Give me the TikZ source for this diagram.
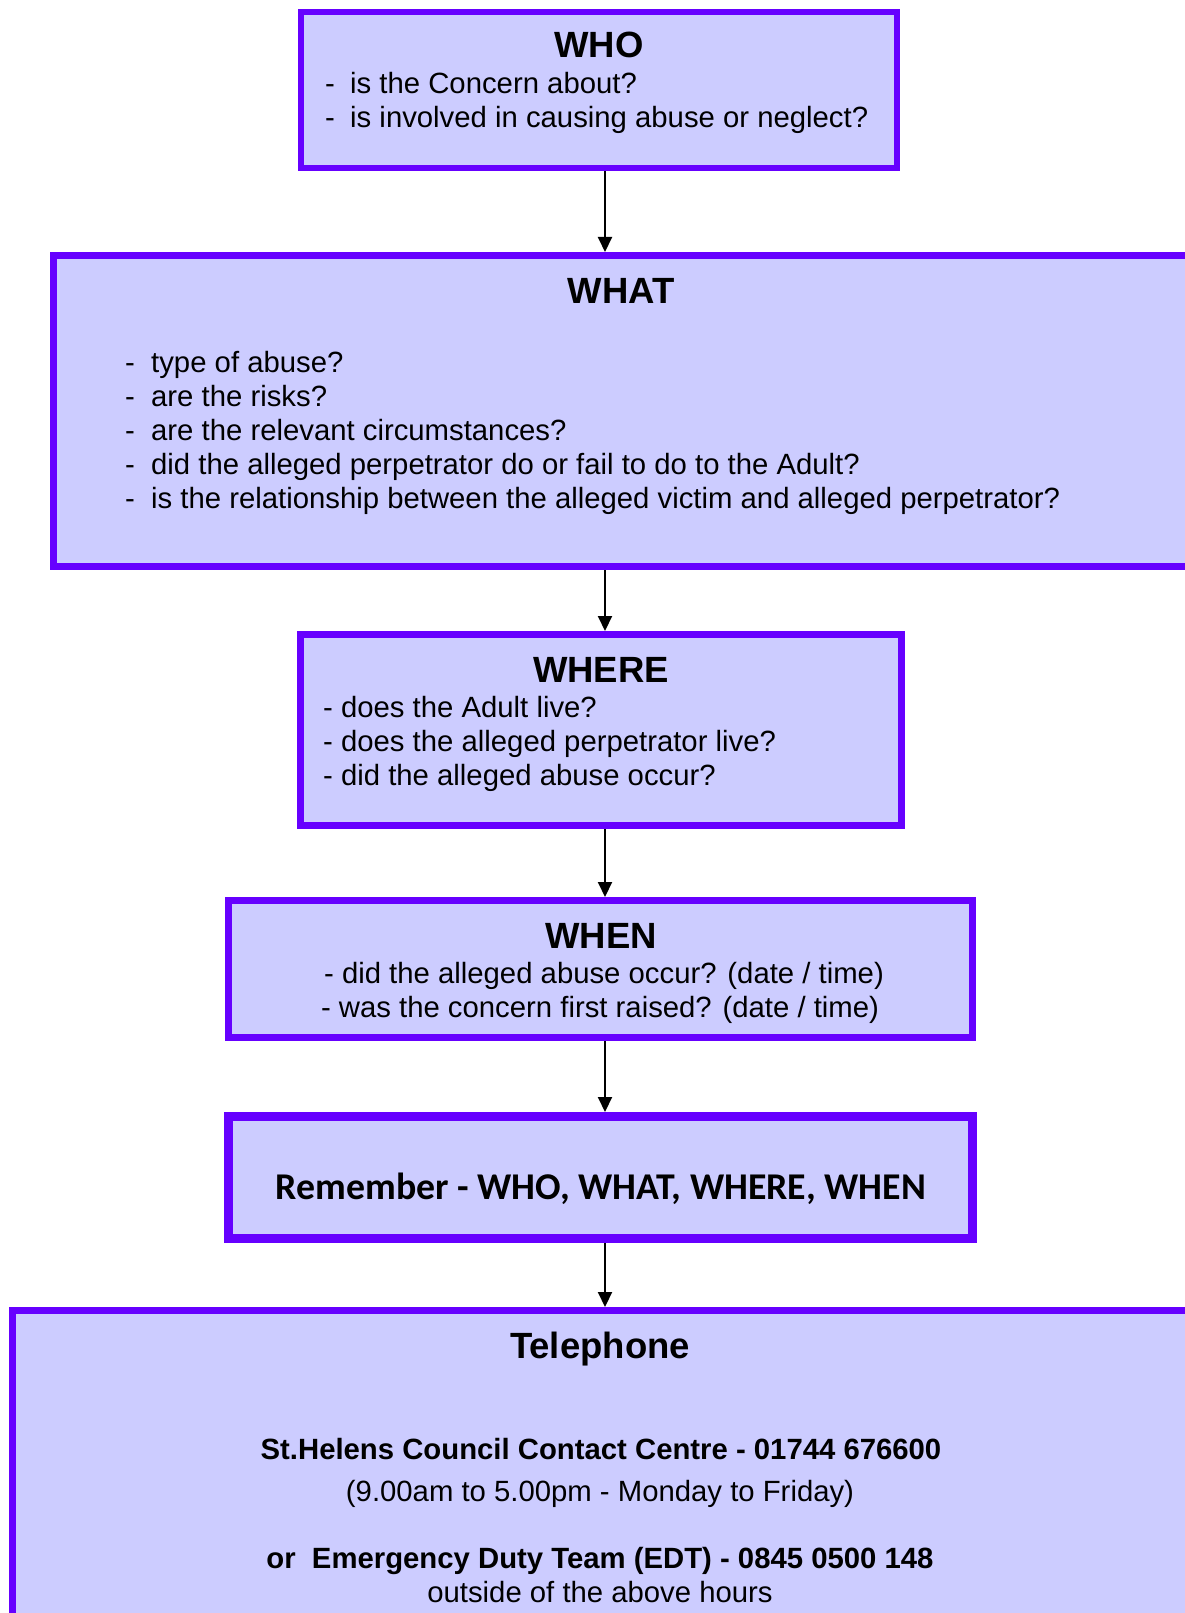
\documentclass[tikz,border=0pt]{standalone}
\usepackage{fontspec}
\setmainfont{Liberation Sans}
\newfontfamily\calibfont{Carlito}
\usetikzlibrary{arrows.meta}

\definecolor{boxfill}{HTML}{CCCCFF}
\definecolor{boxline}{HTML}{6600FF}

\begin{document}
\begin{tikzpicture}[x=1pt,y=-1pt,
  qbox/.style={draw=boxline, fill=boxfill, inner sep=0pt, line width=#1},
  qbox/.default=7pt,
  conn/.style={draw=black, line width=2pt, -{Triangle[width=14pt,length=15pt]}},
  body/.style={inner sep=0pt, font=\fontsize{29.3}{34}\selectfont},
  bodyb/.style={inner sep=0pt, font=\fontsize{29.3}{34}\selectfont\bfseries},
  title/.style={inner sep=0pt, anchor=base, font=\fontsize{36.5}{40}\selectfont\bfseries},
  item/.style={body, anchor=base west},
  mid/.style={body, anchor=base},
  midb/.style={bodyb, anchor=base}]

  % page frame
  \clip (0,0) rectangle (1185,1613);
  \fill[white] (0,0) rectangle (1185,1613);

  % boxes
  \node[qbox=6pt, minimum width=596pt, minimum height=156pt] (who) at (599,90) {};
  \node[qbox, minimum width=1203pt, minimum height=311pt] (what) at (655,411) {};
  \node[qbox, minimum width=601pt, minimum height=191pt] (where) at (601,730) {};
  \node[qbox, minimum width=744pt, minimum height=137pt] (when) at (600.5,969) {};
  \node[qbox=9pt, minimum width=744pt, minimum height=122pt] (remember) at (600.5,1177.5) {};
  \node[qbox, minimum width=1244pt, minimum height=386pt] (phone) at (634.5,1503.5) {};

  % connectors
  \coordinate (ax) at (605,0);
  \draw[conn] (who.south -| ax) -- (what.north -| ax);
  \draw[conn] (what.south -| ax) -- (where.north -| ax);
  \draw[conn] (where.south -| ax) -- (when.north -| ax);
  \draw[conn] (when.south -| ax) -- (remember.north -| ax);
  \draw[conn] (remember.south -| ax) -- (phone.north -| ax);

  % WHO
  \node[title] (whot) at (599,58) {WHO};
  \node[item] (who1) at (325,94) {\makebox[25pt][l]{-}is the Concern about?};
  \node[item] (who2) at (325,128) {\makebox[25pt][l]{-}is involved in causing abuse or neglect?};

  % WHAT
  \node[title] (whatt) at (621,303) {WHAT};
  \node[item] (what1) at (125,372) {\makebox[26pt][l]{-}type of abuse?};
  \node[item] (what2) at (125,406) {\makebox[26pt][l]{-}are the risks?};
  \node[item] (what3) at (125,440) {\makebox[26pt][l]{-}are the relevant circumstances?};
  \node[item] (what4) at (125,474) {\makebox[26pt][l]{-}did the alleged perpetrator do or fail to do to the Adult?};
  \node[item] (what5) at (125,508) {\makebox[26pt][l]{-}is the relationship between the alleged victim and alleged perpetrator?};

  % WHERE
  \node[title] (wheret) at (601,682) {WHERE};
  \node[item] (where1) at (323,717) {- does the Adult live?};
  \node[item] (where2) at (323,751) {- does the alleged perpetrator live?};
  \node[item] (where3) at (323,785) {- did the alleged abuse occur?};

  % WHEN
  \node[title] (whent) at (601,948) {WHEN};
  \node[mid] (when1) at (604,983) {- did the alleged abuse occur? (date / time)};
  \node[mid] (when2) at (600,1017) {- was the concern first raised? (date / time)};

  % reminder
  \node[inner sep=0pt, anchor=base, font=\calibfont\fontsize{37.8}{40}\selectfont\bfseries]
    (remt) at (601,1199) {Remember - WHO, WHAT, WHERE, WHEN};

  % contacts
  \node[title] (phonet) at (600,1358) {Telephone};
  \node[midb] (phone1) at (601,1459) {St.Helens Council Contact Centre - 01744 676600};
  \node[mid] (phone2) at (600,1501) {(9.00am to 5.00pm - Monday to Friday)};
  \node[midb] (phone3) at (600,1568) {or\ \ Emergency Duty Team (EDT) - 0845 0500 148};
  \node[mid] (phone4) at (600,1602) {outside of the above hours};
\end{tikzpicture}
\end{document}
